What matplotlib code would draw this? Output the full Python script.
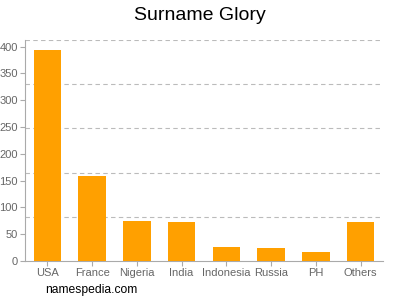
import matplotlib
matplotlib.use("Agg")
import matplotlib.pyplot as plt
import numpy as np

plt.rcParams["font.family"] = ["Liberation Sans", "DejaVu Sans"]

categories = ["USA", "France", "Nigeria", "India", "Indonesia", "Russia", "PH", "Others"]
values = [393, 159, 74, 73, 27, 24, 17, 72]
yticks = [0, 50, 100, 150, 200, 250, 300, 350, 400]
gridlines = [82.5, 165, 247.5, 330, 412.5]

fig = plt.figure(figsize=(4, 3), dpi=100)
ax = fig.add_axes([0.0625, 0.13, 0.895, 0.7367])
x = np.arange(len(categories))
ax.bar(x, values, width=0.62, color="#FFA000", zorder=3)
for g in gridlines:
    ax.axhline(g, color="#bbbbbb", linestyle=(0, (4, 3)), linewidth=0.8, zorder=1)
ax.set_xlim(-0.5, len(categories) - 0.5)
ax.set_ylim(0, 412.5)
ax.set_yticks(yticks)
ax.set_xticks(x)
ax.set_xticklabels(categories)
ax.tick_params(axis="both", colors="#aaaaaa", labelcolor="#666666", labelsize=8, length=3.5, width=0.8, pad=1.5)
for s in ["top", "right"]:
    ax.spines[s].set_visible(False)
for s in ["left", "bottom"]:
    ax.spines[s].set_color("#aaaaaa")
    ax.spines[s].set_linewidth(0.8)
fig.text(0.5, 0.933, "Surname Glory", ha="center", va="baseline", fontsize=14, color="#000000")
fig.text(0.1125, 0.022, "namespedia.com", ha="left", va="baseline", fontsize=8.7, color="#000000")
fig.savefig("out.png", dpi=100)
